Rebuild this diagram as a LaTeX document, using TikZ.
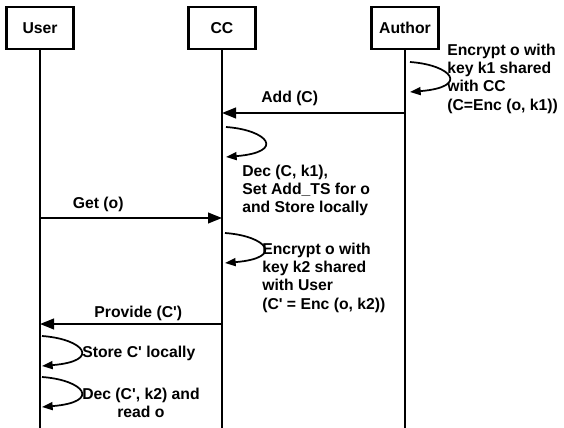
\documentclass[tikz,border=0pt]{standalone}
\usepackage{fontspec}
\setmainfont{Liberation Sans}
\usetikzlibrary{arrows.meta}

\begin{document}
\begin{tikzpicture}[x=0.75pt, y=-0.75pt,
    actor/.style={draw, line width=2pt, minimum width=50pt, minimum height=31.5pt,
      font=\bfseries\fontsize{11.8}{13.6}\selectfont},
    life/.style={line width=2pt},
    msg/.style={line width=1.5pt, -{Triangle[length=10.5pt, width=8pt]}},
    self/.style={line width=1.3pt, -{Triangle[length=8pt, width=6pt]}},
    note/.style={font=\bfseries\fontsize{11.8}{13.6}\selectfont, inner sep=0pt, align=left},
  ]
  \useasboundingbox (0,0) rectangle (564,428);

  % participants and lifelines
  \node[actor] (user) at (40,28) {User};
  \node[actor] (cc) at (222,28) {CC};
  \node[actor] (author) at (405,28) {Author};

  \coordinate (userend) at (40,428);
  \coordinate (ccend) at (222,428);
  \coordinate (authorend) at (405,428);

  \draw[life] (user) -- (userend);
  \draw[life] (cc) -- (ccend);
  \draw[life] (author) -- (authorend);

  % messages
  \coordinate (addA) at (405,113);
  \coordinate (addC) at (222,113);
  \coordinate (getU) at (40,218);
  \coordinate (getC) at (222,218);
  \coordinate (provC) at (222,324);
  \coordinate (provU) at (40,324);

  \draw[msg] (addA) -- node[note, pos=0.63, above=5pt] {Add (C)} (addC);
  \draw[msg] (getU) -- node[note, pos=0.32, above=4pt] {Get (o)} (getC);
  \draw[msg] (provC) -- node[note, pos=0.46, above=2pt] {Provide (C\textquotesingle)} (provU);

  % self calls
  \foreach \n/\x/\y in {a/410/62, c/226/127, d/225/233, u/42/336, v/42/377} {
      \coordinate (\n-s) at (\x,\y);
      \coordinate (\n-e) at (\x,\y+30);
      \draw[self] (\n-s) .. controls +(42,3) and +(60,-5) .. (\n-e);
  }

  % notes
  \node[note, anchor=north west] (encA) at (447,44)
    {Encrypt o with\\key k1 shared\\with CC\\(C=Enc (o, k1))};
  \node[note, anchor=north west] (decC) at (242,165)
    {Dec (C, k1),\\Set Add\_TS for o\\and Store locally};
  \node[note, anchor=north west] (encC) at (262,243)
    {Encrypt o with\\key k2 shared\\with User\\(C\textquotesingle{} = Enc (o, k2))};
  \node[note, anchor=north west] (storeU) at (82,346)
    {Store C\textquotesingle{} locally};
  \node[note, anchor=north west, align=center] (decU) at (82,388)
    {Dec (C\textquotesingle, k2) and\\read o};
\end{tikzpicture}
\end{document}
